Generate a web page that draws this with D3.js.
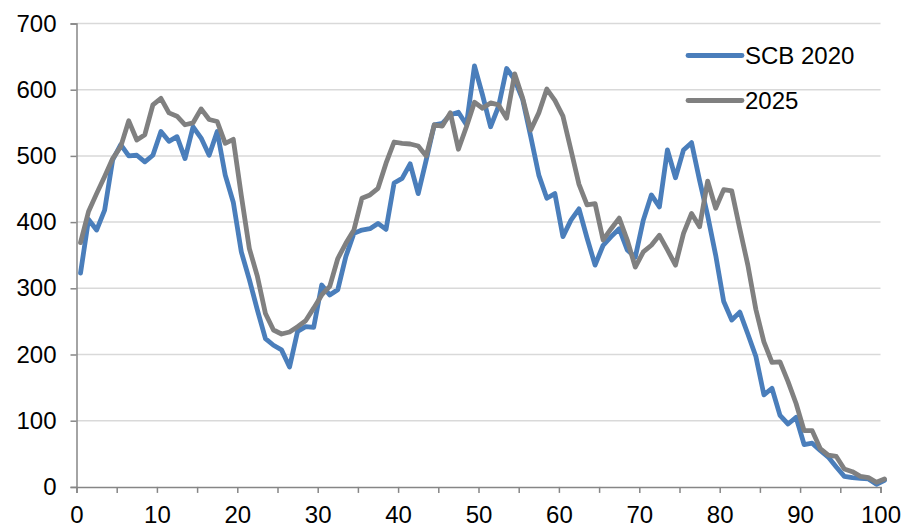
<!DOCTYPE html>
<html>
<head>
<meta charset="utf-8">
<script src="https://cdn.jsdelivr.net/npm/d3@7"></script>
<style>
  body { margin: 0; background: #fff; }
  text { font-family: "Liberation Sans", Arial, sans-serif; }
</style>
</head>
<body>
<div id="chart"></div>
<script>
// values per age 0..100 (plotted at bin centre)
const seriesNames = ["SCB 2020", "2025"];

const scb2020 = [
  323, 404, 388, 418, 494, 517, 500, 501, 491, 501,
  537, 522, 529, 496, 544, 527, 501, 537, 471, 430,
  355, 313, 267, 224, 214, 207, 181, 235, 242, 241,
  305, 290, 298, 348, 383, 388, 390, 398, 389, 459,
  466, 488, 443, 494, 547, 549, 562, 566, 547, 636,
  592, 544, 575, 632, 615, 585, 529, 471, 436, 443,
  378, 403, 420, 376, 335, 365, 378, 390, 358, 347,
  403, 441, 423, 509, 467, 509, 520, 463, 410, 350,
  280, 252, 264, 231, 197, 139, 149, 108, 95, 105,
  64, 66, 55, 45, 30, 16, 14, 13, 12, 4,
  10
];

const y2025 = [
  369, 416, 443, 469, 496, 514, 553, 524, 532, 577,
  587, 565, 560, 547, 550, 571, 555, 552, 519, 525,
  440, 360, 318, 262, 237, 231, 234, 242, 251, 270,
  290, 303, 345, 368, 388, 436, 441, 451, 489, 521,
  519, 518, 515, 500, 547, 545, 565, 510, 544, 581,
  572, 580, 577, 557, 624, 587, 539, 565, 601, 584,
  560, 509, 457, 426, 428, 373, 390, 406, 373, 332,
  355, 365, 380, 358, 335, 383, 413, 393, 462, 421,
  449, 447, 390, 335, 268, 219, 188, 189, 159, 126,
  85, 85, 58, 48, 46, 27, 23, 16, 14, 7,
  12
];

const xTicks = d3.range(0, 101, 10);
const xMinorTicks = d3.range(0, 101, 5);
const yTicks = d3.range(0, 701, 100);

const width = 907;
const height = 528;
const colors = ["#4a7ebb", "#808080"];

const svg = d3.select("#chart")
  .append("svg")
  .attr("width", width)
  .attr("height", height);

const x = d3.scaleLinear()
  .domain([0, 100])
  .range([76.5, 880.5]);

const y = d3.scaleLinear()
  .domain([0, 700])
  .range([486.9, 23.5]);

// gridlines
svg.append("g")
  .selectAll("line")
  .data(yTicks.filter(d => d > 0))
  .join("line")
  .attr("x1", x(0))
  .attr("x2", x(100))
  .attr("y1", d => y(d))
  .attr("y2", d => y(d))
  .attr("stroke", "#d9d9d9")
  .attr("stroke-width", 1.5);

// y axis
svg.append("g")
  .attr("transform", `translate(${x(0)},0)`)
  .call(d3.axisLeft(y).tickValues(yTicks).tickSize(6).tickPadding(14))
  .call(g => g.select(".domain").attr("stroke", "#868686").attr("stroke-width", 1.5))
  .call(g => g.selectAll(".tick line").attr("stroke", "#868686").attr("stroke-width", 1.5))
  .call(g => g.selectAll(".tick text")
    .attr("font-size", 24)
    .attr("fill", "#000")
    .style("font-family", "'Liberation Sans', Arial, sans-serif"));

// x axis (minor ticks every 5, labels every 10)
svg.append("g")
  .attr("transform", `translate(0,${y(0)})`)
  .call(d3.axisBottom(x).tickValues(xMinorTicks).tickSize(6)
    .tickFormat(d => xTicks.includes(d) ? d : ""))
  .call(g => g.select(".domain").attr("stroke", "#868686").attr("stroke-width", 1.5))
  .call(g => g.selectAll(".tick line").attr("stroke", "#868686").attr("stroke-width", 1.5))
  .call(g => g.selectAll(".tick text")
    .attr("dy", "0.71em")
    .attr("y", 19)
    .attr("font-size", 24)
    .attr("fill", "#000")
    .style("font-family", "'Liberation Sans', Arial, sans-serif"));

// lines
const line = d3.line()
  .x((d, i) => x(i + 0.5))
  .y(d => y(d));

[scb2020, y2025].forEach((vals, k) => {
  svg.append("path")
    .datum(vals)
    .attr("fill", "none")
    .attr("stroke", colors[k])
    .attr("stroke-width", 4.8)
    .attr("stroke-linejoin", "round")
    .attr("stroke-linecap", "round")
    .attr("d", line);
});

// legend
const legend = svg.append("g")
  .selectAll("g")
  .data(seriesNames)
  .join("g")
  .attr("transform", (d, i) => `translate(688,${55.5 + i * 45})`);

legend.append("line")
  .attr("x1", 0)
  .attr("x2", 54)
  .attr("stroke", (d, i) => colors[i])
  .attr("stroke-width", 4.8)
  .attr("stroke-linecap", "round");

legend.append("text")
  .attr("x", 57)
  .attr("dy", "0.35em")
  .attr("font-size", 24)
  .attr("fill", "#000")
  .text(d => d);
</script>
</body>
</html>
